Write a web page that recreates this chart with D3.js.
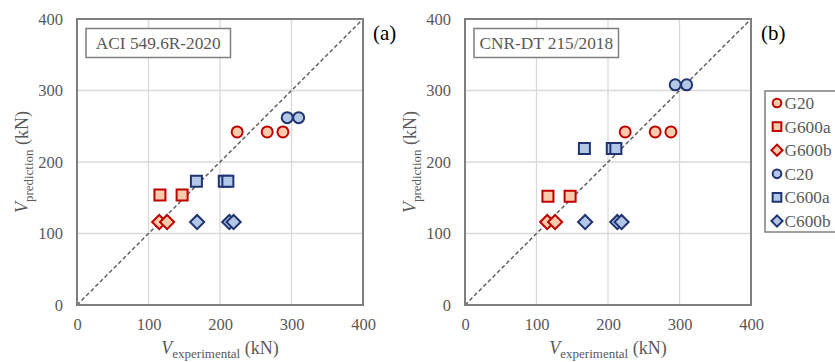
<!DOCTYPE html>
<html><head><meta charset="utf-8">
<script src="https://cdn.jsdelivr.net/npm/d3@7"></script>
<style>
body{margin:0;background:#fff;}
svg{display:block;}
svg text{font-family:"Liberation Serif","Times New Roman",Tinos,"DejaVu Serif",serif !important;}
</style></head>
<body><svg id="c" width="835" height="362"></svg>
<script>
const seriesNames = ["G20","G600a","G600b","C20","C600a","C600b"];
const seriesShapes = ["circle","square","diamond","circle","square","diamond"];
const seriesGroup = ["G","G","G","C","C","C"];
// experimental shear strength (kN), per series
const expG20 = [224,266,288];
const expG600a = [116,147];
const expG600b = [115,126];
const expC20 = [294,310];
const expC600a = [167,206,211];
const expC600b = [168,213,219];
// predictions (kN)
const predACI = [242,154,116,262,173,116];
const predCNR = [242,152,116,308,219,116];
const panelTitles = ["ACI 549.6R-2020","CNR-DT 215/2018"];
const panelLetters = ["(a)","(b)"];
const ticks = [0,100,200,300,400];

const expAll = [expG20,expG600a,expG600b,expC20,expC600a,expC600b];
const preds = [predACI,predCNR];
const colors = {G:{stroke:"#C00000",fill:"#F8CBAD"},C:{stroke:"#1F3470",fill:"#B4C7E7"}};

const svg = d3.select("#c");
const top0 = 19, size = 286;
const lefts = [77,465];

function shapePath(shape, scale){
  if(shape==="circle") return d3.symbol(d3.symbolCircle, 95*scale)();
  if(shape==="square") return d3.symbol(d3.symbolSquare, 121*scale)();
  return d3.symbol(d3.symbolSquare, 100*scale)();
}
function shapeRot(shape){return shape==="diamond"?" rotate(45)":"";}

lefts.forEach((L,pi)=>{
  const x = d3.scaleLinear().domain([0,400]).range([L,L+size]);
  const y = d3.scaleLinear().domain([0,400]).range([top0+size,top0]);
  const g = svg.append("g");
  g.selectAll(".gx").data(ticks.slice(1,-1)).join("line")
    .attr("x1",d=>x(d)).attr("x2",d=>x(d)).attr("y1",y(0)).attr("y2",y(400))
    .attr("stroke","#d9d9d9").attr("stroke-width",1.3);
  g.selectAll(".gy").data(ticks.slice(1,-1)).join("line")
    .attr("y1",d=>y(d)).attr("y2",d=>y(d)).attr("x1",x(0)).attr("x2",x(400))
    .attr("stroke","#d9d9d9").attr("stroke-width",1.3);
  g.append("line").attr("x1",x(0)).attr("y1",y(0)).attr("x2",x(400)).attr("y2",y(400))
    .attr("stroke","#595959").attr("stroke-width",1.4).attr("stroke-dasharray","4,2.5");
  const xa = d3.axisBottom(x).tickValues(ticks).tickSize(0).tickPadding(13);
  const ya = d3.axisLeft(y).tickValues(ticks).tickSize(0).tickPadding(14);
  const gx = g.append("g").attr("transform",`translate(0,${y(0)})`).call(xa);
  const gy = g.append("g").attr("transform",`translate(${x(0)},0)`).call(ya);
  [gx,gy].forEach(a=>{a.select(".domain").remove(); a.attr("font-family",null).attr("font-size",null);
    a.selectAll("text").attr("fill","#595959").style("font-size","16.5px");});
  seriesNames.forEach((s,si)=>{
    const c = colors[seriesGroup[si]];
    g.selectAll(null).data(expAll[si]).join("path")
      .attr("d",shapePath(seriesShapes[si],1))
      .attr("transform",d=>`translate(${x(d)},${y(preds[pi][si])})${shapeRot(seriesShapes[si])}`)
      .attr("fill",c.fill).attr("stroke",c.stroke).attr("stroke-width",2);
  });
  g.append("rect").attr("x",x(0)).attr("y",y(400)).attr("width",size).attr("height",size)
    .attr("fill","none").attr("stroke","#7f7f7f").attr("stroke-width",2);
  g.append("rect").attr("x",L+9).attr("y",28.5).attr("width",144.5).attr("height",29)
    .attr("fill","#fff").attr("stroke","#7f7f7f").attr("stroke-width",1.5);
  g.append("text").attr("x",L+9+72.25).attr("y",49).attr("text-anchor","middle")
    .attr("fill","#595959").style("font-size","17.3px").text(panelTitles[pi]);
  g.append("text").attr("x",L+296).attr("y",40).attr("fill","#000").style("font-size","21px").text(panelLetters[pi]);
  const xl = g.append("text").attr("x",L+size/2).attr("y",354).attr("text-anchor","middle")
    .attr("fill","#595959").style("font-size","18px");
  xl.append("tspan").style("font-style","italic").text("V");
  xl.append("tspan").attr("dy",4).style("font-size","13px").text("experimental");
  xl.append("tspan").attr("dy",-4).text(" (kN)");
  const yl = g.append("text").attr("transform",`translate(${L-49},${top0+size/2}) rotate(-90)`)
    .attr("text-anchor","middle").attr("fill","#595959").style("font-size","18px");
  yl.append("tspan").style("font-style","italic").text("V");
  yl.append("tspan").attr("dy",5).style("font-size","13px").text("prediction");
  yl.append("tspan").attr("dy",-5).text(" (kN)");
});

const lg = svg.append("g");
lg.append("rect").attr("x",765).attr("y",91).attr("width",80).attr("height",141)
  .attr("fill","#fff").attr("stroke","#7f7f7f").attr("stroke-width",1.5);
seriesNames.forEach((s,si)=>{
  const c = colors[seriesGroup[si]];
  const yy = 103 + si*23.6;
  lg.append("path").attr("d",shapePath(seriesShapes[si],0.62))
    .attr("transform",`translate(777,${yy})${shapeRot(seriesShapes[si])}`)
    .attr("fill",c.fill).attr("stroke",c.stroke).attr("stroke-width",2);
  lg.append("text").attr("x",784.5).attr("y",yy+6).attr("fill","#595959").style("font-size","17.3px").text(s);
});
</script></body></html>
